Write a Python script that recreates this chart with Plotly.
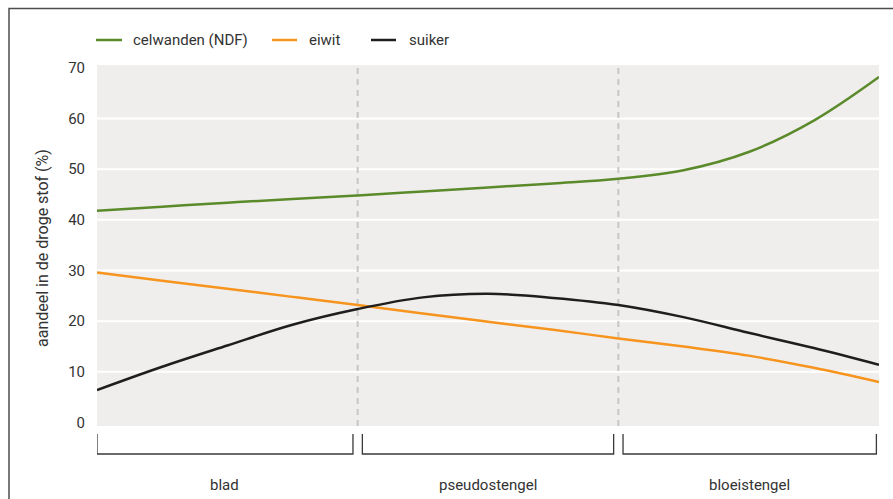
import plotly.graph_objects as go

# ---- data ----
stage_labels = ["blad", "pseudostengel", "bloeistengel"]
series_names = ["celwanden (NDF)", "eiwit", "suiker"]

x_pos = [0, 0.25, 0.5, 0.75, 1.0, 1.25, 1.5, 1.75, 2.0, 2.25, 2.5, 2.75, 3.0]
ndf_y = [41.8, 42.6, 43.4, 44.1, 44.8, 45.6, 46.4, 47.2, 48.1, 49.8, 53.4, 59.6, 68.2]
eiwit_y = [29.6, 28.0, 26.4, 24.8, 23.2, 21.5, 19.9, 18.3, 16.6, 15.0, 13.2, 10.8, 8.0]
suiker_y = [6.4, 11.0, 15.2, 19.3, 22.4, 24.7, 25.4, 24.6, 23.2, 20.8, 17.7, 14.7, 11.4]

y_ticks = [0, 10, 20, 30, 40, 50, 60, 70]
grid_vals = [10, 20, 30, 40, 50, 60]
stage_bounds = [1, 2]

colors = ["#5b8a2b", "#f7941d", "#1e1e1e"]
TXT = "#333333"
FONT = "Roboto"

W, H = 893, 499
ML, MR, MT, MB = 97, 14, 65, 73
PW, PH = W - ML - MR, H - MT - MB


def px2x(px):
    return (px - ML) / PW


def py2y(py):
    return (H - MB - py) / PH


fig = go.Figure()
for name, ys, c in zip(series_names, [ndf_y, eiwit_y, suiker_y], colors):
    fig.add_trace(go.Scatter(x=x_pos, y=ys, mode="lines", name=name,
                             line=dict(color=c, width=2.5, shape="spline", smoothing=1.0),
                             showlegend=False, hoverinfo="x+y+name"))

shapes = []
# white gridlines
for g in grid_vals:
    shapes.append(dict(type="line", xref="paper", yref="y", x0=0, x1=1, y0=g, y1=g,
                       line=dict(color="white", width=2), layer="below"))
# dashed stage boundaries
for b in stage_bounds:
    shapes.append(dict(type="line", xref="x", yref="paper", x0=b, x1=b, y0=0, y1=1,
                       line=dict(color="#c6c6c6", width=2, dash="6px,5px"), layer="below"))

# brackets under the axis
edges = [0] + stage_bounds + [3]
gap = 0.018
yt, yb = py2y(434), py2y(454)
annotations = []
for i, lab in enumerate(stage_labels):
    a = edges[i] + (gap if i > 0 else 0)
    b = edges[i + 1] - (gap if i < len(stage_labels) - 1 else 0.01)
    shapes.append(dict(type="path", xref="x", yref="paper",
                       path=f"M{a},{yt} L{a},{yb} L{b},{yb} L{b},{yt}",
                       line=dict(color="#3a3a3a", width=1.3)))
    annotations.append(dict(x=(a + b) / 2, xref="x", y=py2y(485), yref="paper",
                            text=lab, showarrow=False, xanchor="center", yanchor="middle",
                            font=dict(family=FONT, size=15, color=TXT)))

# manual legend
leg_line_px = [(96, 122), (272, 297), (371, 396)]
leg_text_px = [131, 307, 407]
ly = py2y(40)
for (x0, x1), tx, name, c in zip(leg_line_px, leg_text_px, series_names, colors):
    shapes.append(dict(type="line", xref="paper", yref="paper", x0=px2x(x0), x1=px2x(x1),
                       y0=ly, y1=ly, line=dict(color=c, width=2.5)))
    annotations.append(dict(x=px2x(tx), xref="paper", y=ly, yref="paper", text=name,
                            showarrow=False, xanchor="left", yanchor="middle",
                            font=dict(family=FONT, size=15, color=TXT)))

# y-axis title
annotations.append(dict(x=px2x(42), xref="paper", y=py2y(248), yref="paper",
                        text="aandeel in de droge stof (%)", textangle=-90,
                        showarrow=False, xanchor="center", yanchor="middle",
                        font=dict(family=FONT, size=16, color=TXT)))

# outer frame
shapes.append(dict(type="rect", xref="paper", yref="paper", x0=px2x(9), x1=px2x(W + 20),
                   y0=py2y(H + 20), y1=py2y(8.5), line=dict(color="#4d4d4d", width=1.5)))

fig.update_layout(
    width=W, height=H,
    margin=dict(l=ML, r=MR, t=MT, b=MB),
    paper_bgcolor="white", plot_bgcolor="#efeeec",
    font=dict(family=FONT, size=15, color=TXT),
    shapes=shapes, annotations=annotations,
    xaxis=dict(range=[0, 3], showticklabels=False, showgrid=False, zeroline=False,
               showline=False, ticks=""),
    yaxis=dict(range=[-0.69, 70.57], tickvals=y_ticks, showgrid=False, zeroline=False,
               showline=False, ticks="", ticklabelstandoff=11,
               tickfont=dict(family=FONT, size=15, color=TXT)),
)

fig.write_html("out.html", config={"displayModeBar": False},
               post_script="document.body.style.margin='0';document.body.style.overflow='hidden';")
